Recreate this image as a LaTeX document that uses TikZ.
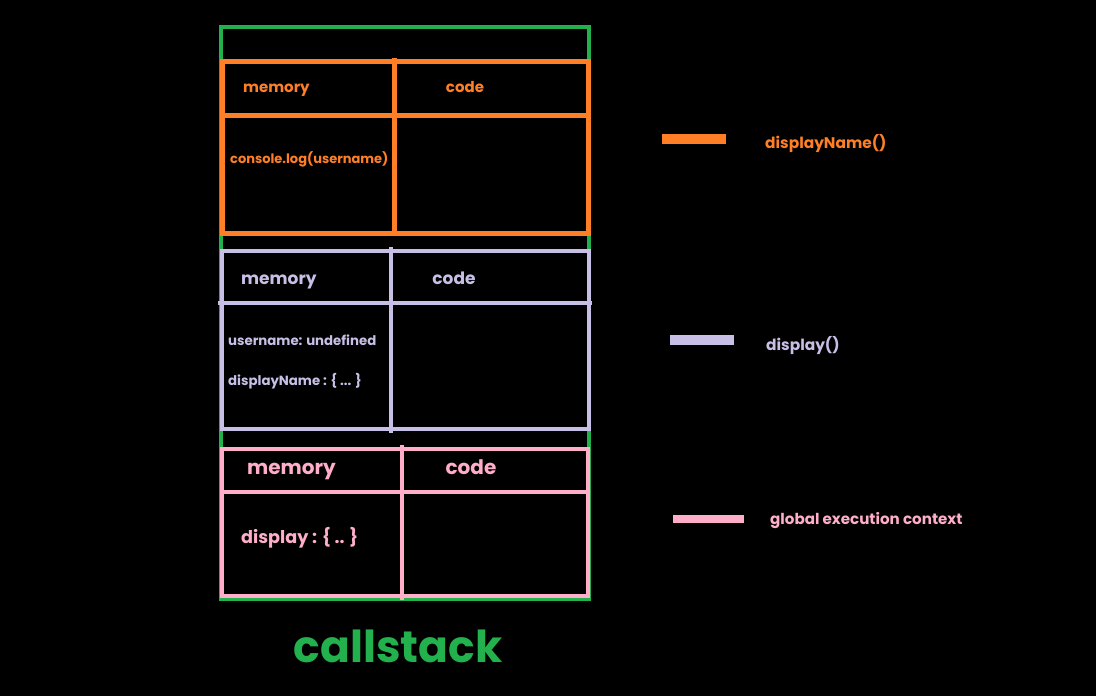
\documentclass[tikz,border=0pt]{standalone}
\usepackage{fontspec}
\setmainfont{Poppins}
\definecolor{stkgreen}{RGB}{34,177,76}
\definecolor{orng}{RGB}{255,127,39}
\definecolor{lav}{RGB}{200,191,231}
\definecolor{pnk}{RGB}{255,174,201}
\begin{document}
\begin{tikzpicture}[x=1pt,y=-1pt,
  lbl/.style={font=\bfseries\fontsize{#1}{#1}\selectfont, inner sep=0pt},
  frame/.style={line width=4.5pt, draw=#1},
  bar/.style={fill=#1, draw=none}]
\fill[black] (0,0) rectangle (1096,696);
\useasboundingbox (0,0) rectangle (1096,696);
% outer callstack frame
\draw[line width=3.5pt, draw=stkgreen] (221,27) rectangle (589,599);
% orange frame
\draw[frame=orng, line width=5pt] (222,61) rectangle (588,233);
\draw[frame=orng, line width=5pt] (222,115) -- (588,115);
\draw[frame=orng, line width=5pt] (394,58) -- (394,236);
\node[lbl=15, text=orng, anchor=mid west] (om) at (243,90) {memory};
\node[lbl=15, text=orng, anchor=mid] (oc) at (465,90) {code};
\node[lbl=13, text=orng, anchor=mid west] (ol) at (230,160.6) {console.log(username)};
% lavender frame
\draw[frame=lav] (222,251) rectangle (589,429);
\draw[frame=lav] (218,303) -- (592,303);
\draw[frame=lav] (391,247) -- (391,433);
\node[lbl=17, text=lav, anchor=mid west] (lm) at (241,281.4) {memory};
\node[lbl=17, text=lav, anchor=mid] (lc) at (454,281.4) {code};
\node[lbl=13.3, text=lav, anchor=mid west] (lu) at (228,342.7) {username: undefined};
\node[lbl=13.3, text=lav, anchor=mid west] (ld) at (228,382.7) {displayName : \{ ... \}};
% pink frame
\draw[frame=pnk] (222,449) rectangle (588,596);
\draw[frame=pnk] (222,492) -- (588,492);
\draw[frame=pnk] (402,445) -- (402,600);
\node[lbl=20, text=pnk, anchor=mid west] (pm) at (247,472) {memory};
\node[lbl=20, text=pnk, anchor=mid] (pc) at (471,472) {code};
\node[lbl=17.6, text=pnk, anchor=mid west] (pd) at (241,540.5) {display : \{ .. \}};
% legend
\fill[bar=orng] (662,134) rectangle (726,144);
\node[lbl=15.4, text=orng, anchor=mid west] (lg1) at (765,146) {displayName()};
\fill[bar=lav] (670,335) rectangle (734,345);
\node[lbl=15.4, text=lav, anchor=mid west] (lg2) at (766,348) {display()};
\fill[bar=pnk] (673,515) rectangle (744,523);
\node[lbl=15.1, text=pnk, anchor=mid west] (lg3) at (770,522) {global execution context};
% title
\node[lbl=44, text=stkgreen] (title) at (398,646) {callstack};
\end{tikzpicture}
\end{document}
